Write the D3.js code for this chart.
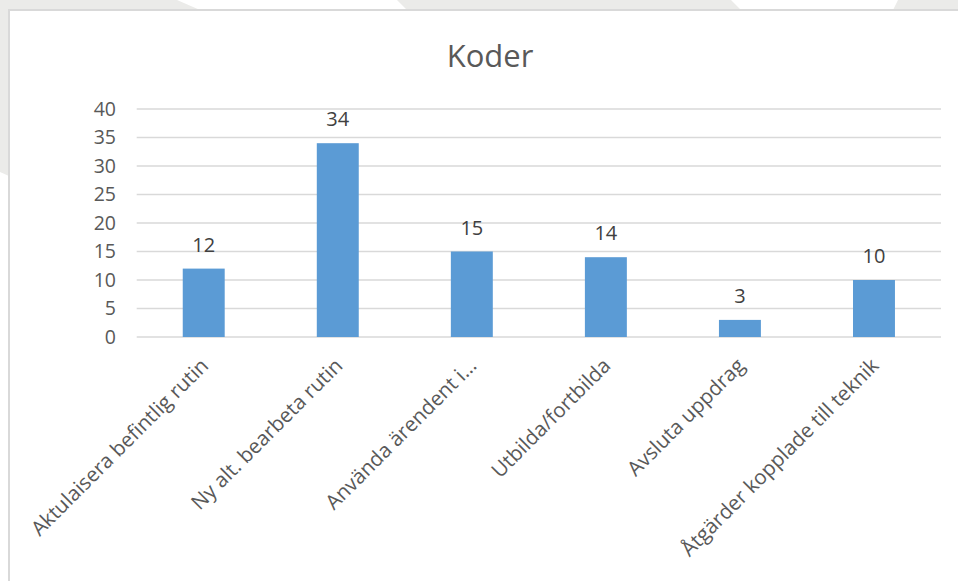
<!DOCTYPE html>
<html>
<head>
  <meta charset="utf-8">
  <title>Koder</title>
  <script src="https://d3js.org/d3.v7.min.js"></script>
  <style>
    body { margin: 0; background: #ffffff; }
    svg { display: block; font-family: 'Open Sans', sans-serif; }
  </style>
</head>
<body>
<svg width="958" height="581"></svg>
<script>
// chart values
var categories = ["Aktulaisera befintlig rutin", "Ny alt. bearbeta rutin", "Använda ärendent i…",
                  "Utbilda/fortbilda", "Avsluta uppdrag", "Åtgärder kopplade till teknik"];
var counts = [12, 34, 15, 14, 3, 10];
var yTicks = [0, 5, 10, 15, 20, 25, 30, 35, 40];
var title = "Koder";

var svg = d3.select("svg");

// grey page background with the white watermark cut-outs at the top
svg.append("rect").attr("width", 958).attr("height", 581).attr("fill", "#ffffff");
svg.append("path")
  .attr("d", "M0,0 L177,0 L200,10 L9,10 L9,176 L0,172 Z M397,0 L731,0 L741,10 L407,10 Z M898,0 L958,0 L958,10 L893,10 Z")
  .attr("fill", "#ebebe9");

// chart area box
svg.append("rect")
  .attr("x", 9).attr("y", 10)
  .attr("width", 960).attr("height", 590)
  .attr("fill", "#ffffff")
  .attr("stroke", "#d9d9d9")
  .attr("stroke-width", 2);

var x = d3.scaleBand()
  .domain(categories)
  .range([136.7, 941])
  .padding(0);

var y = d3.scaleLinear()
  .domain([0, 40])
  .range([337, 109]);

// gridlines
svg.append("g")
  .selectAll("line")
  .data(yTicks)
  .join("line")
  .attr("x1", 136.7).attr("x2", 941)
  .attr("y1", d => y(d)).attr("y2", d => y(d))
  .attr("stroke", "#d9d9d9")
  .attr("stroke-width", 1.6);

// y axis labels
var yAxis = d3.axisLeft(y).tickValues(yTicks).tickSize(0).tickPadding(0);
var gy = svg.append("g").attr("transform", "translate(116,0)").call(yAxis);
gy.select(".domain").remove();
gy.selectAll("text")
  .attr("font-family", "'Open Sans', sans-serif")
  .attr("font-size", "19.5px")
  .attr("fill", "#595959");

// bars
var barW = x.bandwidth() * 0.313;
svg.append("g")
  .selectAll("rect")
  .data(counts)
  .join("rect")
  .attr("x", (d, i) => x(categories[i]) + x.bandwidth() / 2 - barW / 2)
  .attr("y", d => y(d))
  .attr("width", barW)
  .attr("height", d => y(0) - y(d))
  .attr("fill", "#5b9bd5");

// data labels
svg.append("g")
  .selectAll("text")
  .data(counts)
  .join("text")
  .attr("x", (d, i) => x(categories[i]) + x.bandwidth() / 2)
  .attr("y", d => y(d) - 17)
  .attr("text-anchor", "middle")
  .attr("font-size", "20px")
  .attr("fill", "#404040")
  .text(d => d);

// x axis labels, rotated
svg.append("g")
  .selectAll("text")
  .data(categories)
  .join("text")
  .attr("transform", d => "translate(" + (x(d) + x.bandwidth() / 2 + 6) + ",367) rotate(-45)")
  .attr("text-anchor", "end")
  .attr("font-size", "20.5px")
  .attr("fill", "#595959")
  .text(d => d);

// title
svg.append("text")
  .attr("x", 490).attr("y", 67)
  .attr("text-anchor", "middle")
  .attr("font-size", "31px")
  .attr("fill", "#595959")
  .text(title);
</script>
</body>
</html>
